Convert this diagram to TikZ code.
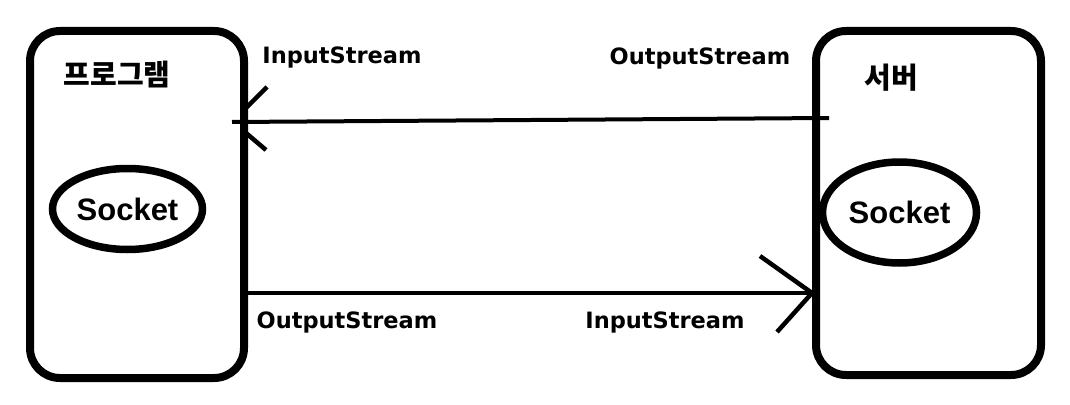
\documentclass[tikz,border=0pt]{standalone}
\usepackage{fontspec}
\setmainfont{Liberation Sans}
\newfontfamily\krfont{Noto Sans CJK KR}
\newfontfamily\lblfont{DejaVu Sans}
\usepackage{tikz}
\usetikzlibrary{shapes.geometric}

\begin{document}
\begin{tikzpicture}[x=1pt,y=-1pt,
  machine/.style ={draw, line width=8pt, rounded corners=30pt, inner sep=0pt},
  socket/.style ={ellipse, draw, line width=7.5pt, inner sep=0pt, font=\fontsize{31}{31}\selectfont\bfseries},
  stream/.style ={font=\lblfont\fontsize{22.5}{22.5}\selectfont\bfseries, inner sep=0pt},
  title/.style ={font=\krfont\fontsize{29}{29}\selectfont\bfseries, inner sep=0pt},
  pipe/.style ={line width=4pt},
  barb/.style ={line width=4.5pt}]
 \useasboundingbox (0,0) rectangle (1070,404);
 \node[machine, minimum width=214pt, minimum height=347pt] (P) at (137,204.5) {};
 \node[machine, minimum width=225pt, minimum height=344pt] (S) at (928.5,203) {};
 \node[title] (Ptitle) at (117,75) {프로그램};
 \node[title] (Stitle) at (891,78) {서버};
 \node[socket, minimum width=150pt, minimum height=81pt] (PS) at (127.5,209) {Socket};
 \node[socket, minimum width=154pt, minimum height=101pt] (SS) at (899.5,212.5) {Socket};
 % streams
 \coordinate (outS) at (829,118);
 \coordinate (inP) at (232,122);
 \coordinate (outP) at (247,293);
 \coordinate (inS) at (812,293);
 \draw[pipe] (outS) -- (inP);
 \draw[barb] (inP) ++(14,-14) -- (267,87);
 \draw[barb] (inP) ++(14,11) -- (266,150);
 \draw[pipe] (outP) -- (inS);
 \draw[barb] (inS) -- (760,256);
 \draw[barb] (inS) -- (777,332);
 \node[stream] (inPlbl) at (342,57) {InputStream};
 \node[stream] (outSlbl) at (700,58) {OutputStream};
 \node[stream] (outPlbl) at (347,322) {OutputStream};
 \node[stream] (inSlbl) at (665,322) {InputStream};
\end{tikzpicture}
\end{document}
